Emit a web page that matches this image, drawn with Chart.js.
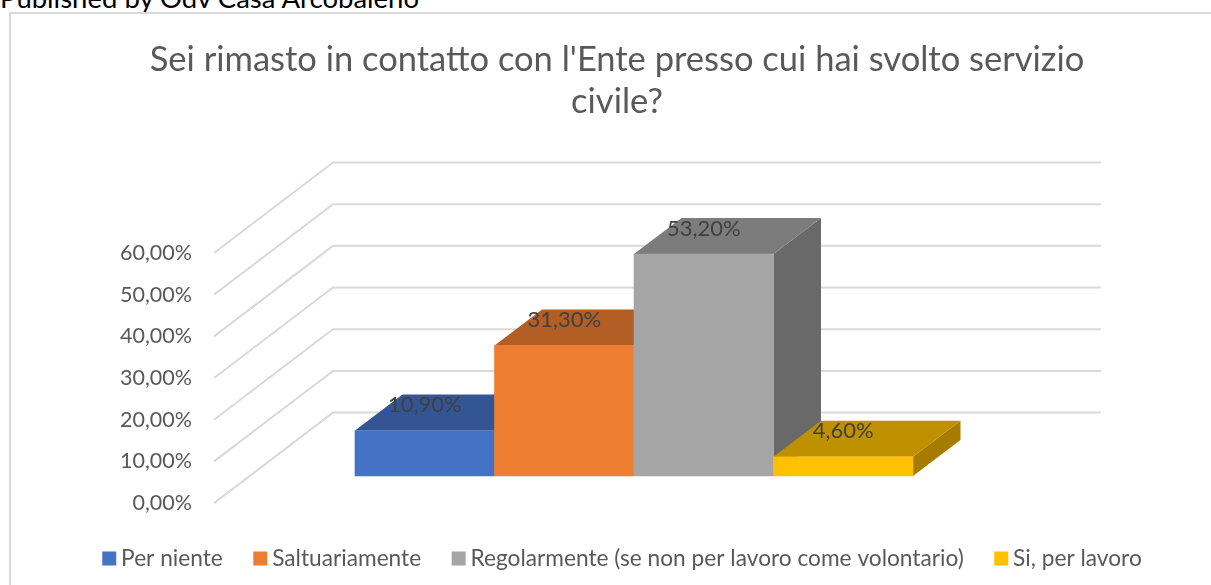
<!DOCTYPE html>
<html>
<head>
<meta charset="utf-8">
<script src="https://cdn.jsdelivr.net/npm/chart.js@4/dist/chart.umd.min.js"></script>
<style>
    html, body { margin: 0; padding: 0; background: #fff; overflow: hidden; width: 1211px; height: 585px; }
    #published { position: absolute; left: 0; top: -19px; font: 27.5px Lato, sans-serif; color: #000; white-space: nowrap; }
    #frame { position: absolute; left: 9px; top: 12px; width: 1216px; height: 659px; box-sizing: border-box; border: 2px solid #d9d9d9; background: #fff; }
    #chart { position: absolute; left: -2px; top: -2px; }
</style>
</head>
<body>
<div id="published">Published by Odv Casa Arcobaleno</div>
<div id="frame"><canvas id="chart" width="1216" height="659"></canvas></div>
<script>
const categories = ['Per niente', 'Saltuariamente', 'Regolarmente (se non per lavoro come volontario)', 'Si, per lavoro'];
const percentages = [10.9, 31.3, 53.2, 4.6];
const valueLabels = ['10,90%', '31,30%', '53,20%', '4,60%'];
const titleLines = ["Sei rimasto in contatto con l'Ente presso cui hai svolto servizio", 'civile?'];

const frontColors = ['#4472c4', '#ed7d31', '#a5a5a5', '#ffc000'];
const topColors = ['#335593', '#b35e25', '#7c7c7c', '#bf9000'];
const sideColors = ['#294a82', '#9c5220', '#696969', '#a67c00'];

// fake 3D: the wall sits behind the axis plane, the bars sit part way in
const wall = { inset: 141, dx: 119, dy: 90.5, right: 1092 };
const barShift = 27.2;
const barDepth = { dx: 47.5, dy: 36 };

const box3d = {
    id: 'box3d',
    beforeDraw(chart) {
        // the legend sits a bit right of the title in the original
        chart.legend.left += 8.25;
        chart.legend.right += 8.25;
    },
    beforeDatasetsDraw(chart) {
        const ctx = chart.ctx;
        const yScale = chart.scales.y;
        const x0 = chart.chartArea.left - wall.inset;

        // walls and floor grid
        ctx.save();
        ctx.strokeStyle = '#d9d9d9';
        ctx.lineWidth = 2;
        yScale.ticks.forEach(t => {
            const y = yScale.getPixelForValue(t.value);
            ctx.beginPath();
            ctx.moveTo(x0, y);
            ctx.lineTo(x0 + wall.dx, y - wall.dy);
            ctx.lineTo(wall.right, y - wall.dy);
            ctx.stroke();
        });
        ctx.restore();

        // top and side faces, the front faces come from the library
        ctx.save();
        ctx.translate(0, -barShift);
        chart.getDatasetMeta(0).data.forEach((bar, i) => {
            const left = bar.x - bar.width / 2;
            const right = bar.x + bar.width / 2;
            const base = yScale.getPixelForValue(0);
            ctx.fillStyle = sideColors[i];
            ctx.beginPath();
            ctx.moveTo(right, bar.y);
            ctx.lineTo(right + barDepth.dx, bar.y - barDepth.dy);
            ctx.lineTo(right + barDepth.dx, base - barDepth.dy);
            ctx.lineTo(right, base);
            ctx.closePath();
            ctx.fill();
            ctx.fillStyle = topColors[i];
            ctx.beginPath();
            ctx.moveTo(left, bar.y);
            ctx.lineTo(left + barDepth.dx, bar.y - barDepth.dy);
            ctx.lineTo(right + barDepth.dx, bar.y - barDepth.dy);
            ctx.lineTo(right, bar.y);
            ctx.closePath();
            ctx.fill();
        });
        // stays translated for the library bars, see afterDatasetsDraw
    },
    afterDatasetsDraw(chart) {
        const ctx = chart.ctx;
        ctx.restore();

        ctx.save();
        ctx.font = '22px Lato, sans-serif';
        ctx.fillStyle = '#404040';
        ctx.textAlign = 'center';
        ctx.textBaseline = 'middle';
        chart.getDatasetMeta(0).data.forEach((bar, i) => {
            ctx.fillText(valueLabels[i], bar.x, bar.y - barShift - 25.5);
        });
        ctx.restore();
    }
};

new Chart(document.getElementById('chart'), {
    type: 'bar',
    data: {
        labels: categories,
        datasets: [{
            data: percentages,
            backgroundColor: frontColors,
            barPercentage: 1,
            categoryPercentage: 1,
            clip: false
        }]
    },
    options: {
        responsive: false,
        animation: false,
        layout: { padding: 0 },
        plugins: {
            tooltip: { enabled: false },
            title: {
                display: true,
                text: titleLines,
                color: '#595959',
                font: { family: 'Lato, sans-serif', size: 34.5, weight: 'normal', lineHeight: 1.217 },
                padding: { top: 27, bottom: 130 }
            },
            legend: {
                position: 'bottom',
                labels: {
                    color: '#595959',
                    font: { family: 'Lato, sans-serif', size: 22.7 },
                    // 1px box with a 13px stroke gives the 14px square closer to its text
                    boxWidth: 1,
                    boxHeight: 1,
                    padding: 37,
                    generateLabels() {
                        return categories.map((c, i) => ({ text: c, fillStyle: frontColors[i], strokeStyle: frontColors[i], lineWidth: 13, fontColor: '#595959', datasetIndex: 0, index: i }));
                    }
                }
            }
        },
        scales: {
            x: {
                grid: { display: false },
                border: { display: false },
                ticks: { display: false },
                afterFit(scale) { scale.height = 7; }
            },
            y: {
                min: 0,
                max: 60,
                grid: { display: false },
                border: { display: false },
                ticks: {
                    stepSize: 10,
                    color: '#595959',
                    // the big padding also reserves ~170px under the plot, canvas height allows for it
                    padding: 155,
                    font: { family: 'Lato, sans-serif', size: 21.5 },
                    callback: v => v.toFixed(2).replace('.', ',') + '%'
                },
                afterFit(scale) { scale.width = 346; }
            },
            // empty axis, only keeps the plot clear of the right part of the frame
            spacer: {
                position: 'right',
                grid: { display: false },
                border: { display: false },
                ticks: { display: false },
                afterFit(scale) { scale.width = 312; }
            }
        }
    },
    plugins: [box3d]
});
</script>
</body>
</html>
